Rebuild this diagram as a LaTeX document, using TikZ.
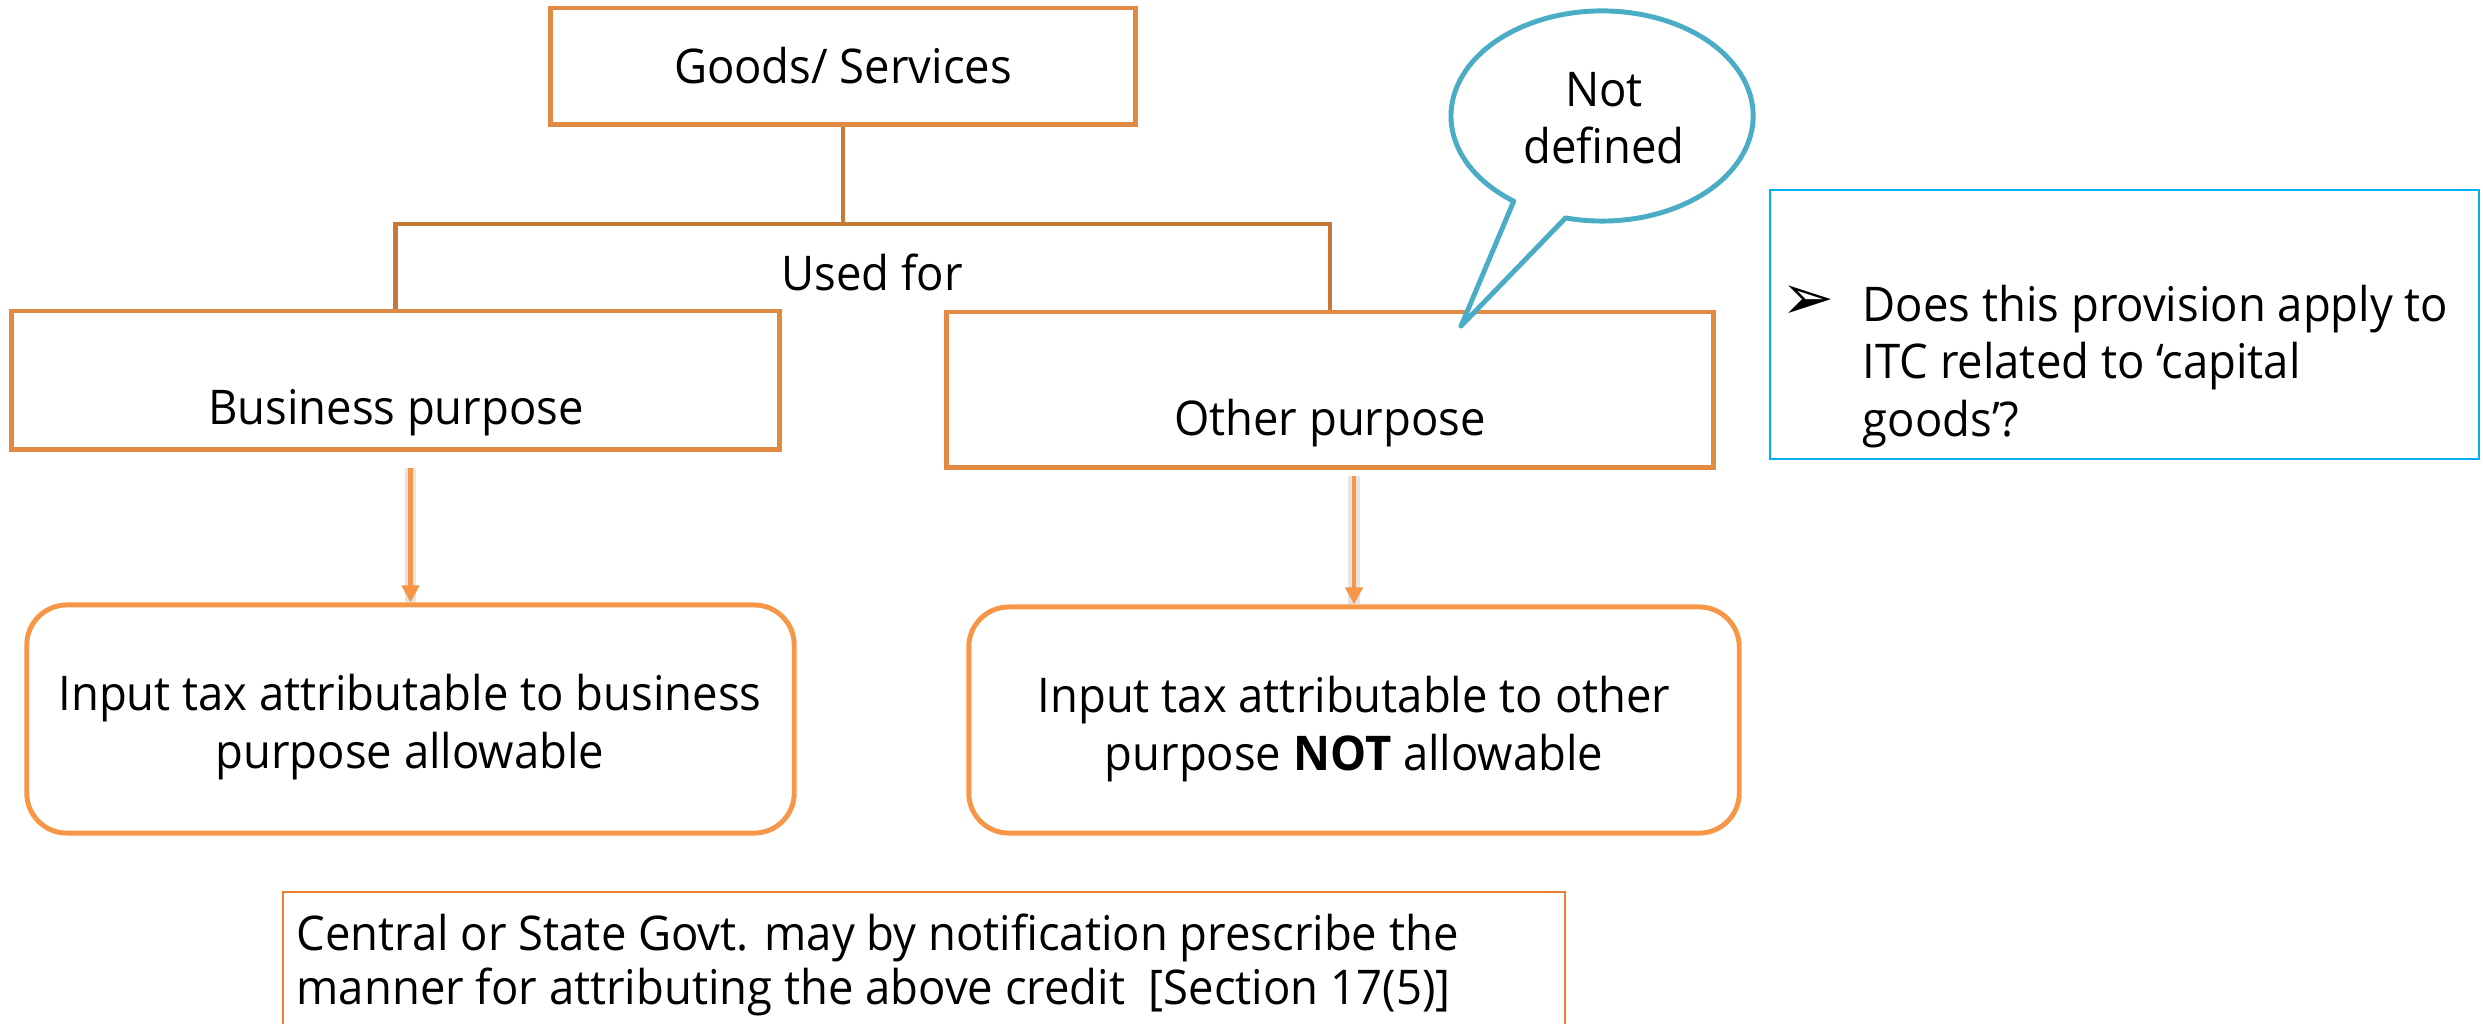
\documentclass[tikz,border=0pt]{standalone}
\usepackage{fontspec}
\setmainfont{Open Sans}[FakeStretch=0.95]
\newfontfamily\symfont{DejaVu Sans}
\usetikzlibrary{arrows.meta}
\definecolor{treeor}{RGB}{226,137,66}
\definecolor{linkor}{RGB}{199,121,58}
\definecolor{resor}{RGB}{247,150,70}
\definecolor{calloutc}{RGB}{75,172,198}
\definecolor{noteblue}{RGB}{0,176,240}
\definecolor{footor}{RGB}{237,125,49}
\begin{document}
\begin{tikzpicture}[x=0.01cm,y=-0.01cm,
  every node/.style={font=\fontsize{13.6}{16.4}\selectfont, inner sep=0pt, text=black},
  treebox/.style={draw=treeor, line width=1.4pt, rectangle},
  resbox/.style={draw=resor, line width=1.4pt, rectangle, rounded corners=0.4cm},
  link/.style={draw=linkor, line width=1.2pt},
  flow/.style={draw=resor, line width=1.3pt, -{Triangle[width=0.17cm,length=0.17cm]},
    preaction={draw=black!10, line width=3.4pt, -}},
  callout/.style={draw=calloutc, line width=1.4pt, fill=white, line join=round},
  thinbox/.style={line width=0.6pt, rectangle}
]
\useasboundingbox (0,0) rectangle (2483,1023);

% tree boxes
\node[treebox, minimum width=5.85cm, minimum height=1.16cm] (goods) at (843,66) {Goods/ Services};
\node[treebox, minimum width=7.67cm, minimum height=1.38cm] (biz) at (395.5,380) {};
\node[treebox, minimum width=7.66cm, minimum height=1.55cm] (oth) at (1330,389.5) {};
\node (bizlbl) at (396,413) {Business purpose};
\node (othlbl) at (1330,423) {Other purpose};

% branching connector
\coordinate (split) at (843,224);
\draw[link] (goods.south) -- (split);
\draw[link] (biz.north) |- (split) -| (oth.north);
\node (usedfor) at (872,272) {Used for};

% outcome boxes
\node[resbox, minimum width=7.67cm, minimum height=2.28cm] (bizres) at (410.5,719) {};
\node[resbox, minimum width=7.70cm, minimum height=2.26cm] (othres) at (1354,720) {};
\node[align=center] (bizrestxt) at (410,727) {Input tax attributable to business\\purpose allowable};
\node[align=center] (othrestxt) at (1354,729) {Input tax attributable to other\\purpose \textbf{NOT} allowable};

\draw[flow] ([yshift=-0.16cm]bizres.north |- biz.south) -- (bizres.north);
\draw[flow] ([yshift=-0.06cm]othres.north |- oth.south) -- (othres.north);

% speech bubble
\coordinate (tip) at (1461,326);
\draw[callout] (1513.7,201.2) -- (tip) -- (1565.5,217.9)
  arc[start angle=-104, end angle=234.2, x radius=1.51cm, y radius=1.05cm] -- cycle;
\node[align=center] (notdef) at (1604,118) {Not\\defined};

% question box
\node[thinbox, draw=noteblue, minimum width=7.09cm, minimum height=2.69cm] (note) at (2124.5,324.5) {};
\node (bullet) at (1808,303) {\symfont\fontsize{18}{18}\selectfont ➢};
\node[anchor=north west, align=left] (notetxt) at (1862,284)
  {Does this provision apply to\\ITC related to ‘capital\\goods’?};

% footnote box
\node[thinbox, draw=footor, minimum width=12.81cm, minimum height=1.5cm, anchor=north west] (foot) at (282,891) {};
\node[anchor=north west, align=left, font=\fontsize{13.6}{15.3}\selectfont] (foottxt) at (296,913)
  {Central or State Govt. may by notification prescribe the\\manner for attributing the above credit\ \ [Section 17(5)]};
\end{tikzpicture}
\end{document}
